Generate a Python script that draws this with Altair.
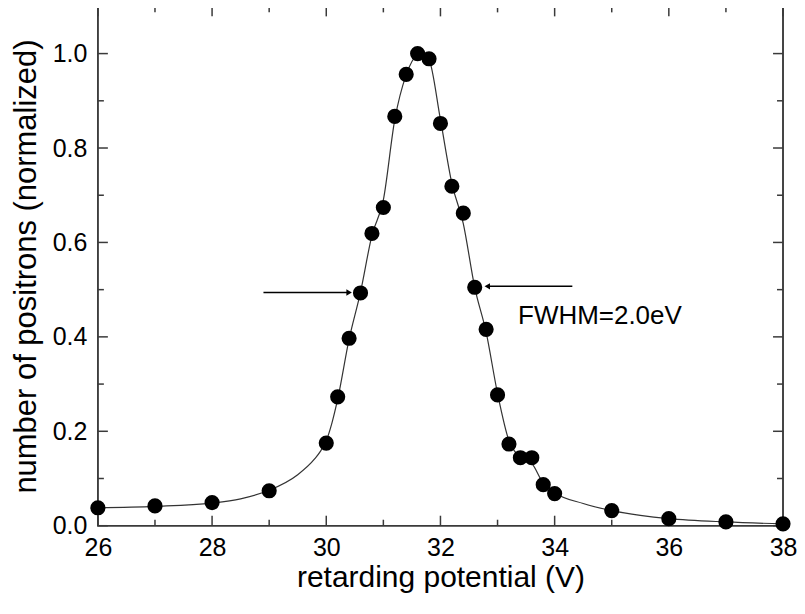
import altair as alt
import pandas as pd

# measured points
pot = [26, 27, 28, 29, 30.0, 30.2, 30.4, 30.6, 30.8, 31.0, 31.2, 31.4, 31.6, 31.8,
       32.0, 32.2, 32.4, 32.6, 32.8, 33.0, 33.2, 33.4, 33.6, 33.8, 34.0, 35, 36, 37, 38]
cnt = [0.038, 0.042, 0.049, 0.074, 0.175, 0.273, 0.397, 0.493, 0.619, 0.674, 0.867,
       0.956, 1.0, 0.989, 0.852, 0.719, 0.662, 0.505, 0.416, 0.277, 0.173, 0.144,
       0.144, 0.087, 0.068, 0.032, 0.015, 0.008, 0.004]

# fitted curve
fit_x = [26, 27, 28, 28.5, 29, 29.5, 29.8, 29.9, 30.0, 30.1, 30.2, 30.4, 30.6, 30.8,
         31.0, 31.2, 31.4, 31.6, 31.7, 31.8, 32.0, 32.2, 32.4, 32.6, 32.8, 33.0, 33.2,
         33.4, 33.6, 33.8, 34.0, 34.5, 35, 35.5, 36, 37, 38]
fit_y = [0.038, 0.041, 0.048, 0.057, 0.075, 0.108, 0.142, 0.158, 0.18, 0.218, 0.268,
         0.395, 0.495, 0.615, 0.69, 0.86, 0.955, 0.997, 1.0, 0.988, 0.86, 0.725, 0.64,
         0.505, 0.41, 0.28, 0.18, 0.145, 0.132, 0.09, 0.07, 0.047, 0.032, 0.022, 0.015,
         0.008, 0.004]

x_major = [26, 28, 30, 32, 34, 36, 38]
x_minor = [27, 29, 31, 33, 35, 37]
y_major = [0.0, 0.2, 0.4, 0.6, 0.8, 1.0]
y_minor = [0.1, 0.3, 0.5, 0.7, 0.9]

arrow_l_x = [28.9, 30.40]
arrow_l_y = [0.494, 0.494]
arrow_r_x = [34.31, 32.82]
arrow_r_y = [0.507, 0.507]
label_text = "FWHM=2.0eV"
label_x = 33.36
label_y = 0.445

W, H = 686, 520
FONT = "Liberation Sans"
FRAME = "#3a3a3a"

xs = alt.Scale(domain=[26, 38], nice=False, zero=False)
ys = alt.Scale(domain=[0, 1.1], nice=False, zero=False)

pts = pd.DataFrame({"x": pot, "y": cnt})
fit = pd.DataFrame({"x": fit_x, "y": fit_y})

base_x = alt.X("x:Q", scale=xs, title="retarding potential (V)",
               axis=alt.Axis(values=x_major, format="d", tickSize=0, domain=False,
                             grid=False, labelFlush=False, labelFontSize=25,
                             titleFontSize=30, labelPadding=10, titlePadding=2,
                             labelFont=FONT, titleFont=FONT, labelColor="black",
                             titleColor="black", titleFontWeight="normal"))
base_y = alt.Y("y:Q", scale=ys, title="number of positrons (normalized)",
               axis=alt.Axis(values=y_major, format=".1f", tickSize=0, domain=False,
                             grid=False, labelFlush=False, labelFontSize=25,
                             titleFontSize=31, labelPadding=11, titlePadding=10,
                             labelFont=FONT, titleFont=FONT, labelColor="black",
                             titleColor="black", titleFontWeight="normal"))

curve = alt.Chart(fit).mark_line(color="#333333", strokeWidth=1.2,
                                 interpolate="monotone").encode(x=base_x, y=base_y)
dots = alt.Chart(pts).mark_circle(size=230, color="black", opacity=1).encode(
    x=alt.X("x:Q", scale=xs), y=alt.Y("y:Q", scale=ys))

frame = alt.Chart(pd.DataFrame({"a": [0]})).mark_rect(
    fillOpacity=0, fill="white", stroke=FRAME, strokeWidth=1.5).encode(
    x=alt.value(0), x2=alt.value(W), y=alt.value(0), y2=alt.value(H))


def xticks(vals, length):
    d = pd.DataFrame({"x": vals})
    b = alt.Chart(d).mark_rule(color=FRAME, strokeWidth=1.5).encode(
        x=alt.X("x:Q", scale=xs), y=alt.value(H), y2=alt.value(H - length))
    t = alt.Chart(d).mark_rule(color=FRAME, strokeWidth=1.5).encode(
        x=alt.X("x:Q", scale=xs), y=alt.value(0), y2=alt.value(length))
    return [b, t]


def yticks(vals, length):
    d = pd.DataFrame({"y": vals})
    l = alt.Chart(d).mark_rule(color=FRAME, strokeWidth=1.5).encode(
        y=alt.Y("y:Q", scale=ys), x=alt.value(0), x2=alt.value(length))
    r = alt.Chart(d).mark_rule(color=FRAME, strokeWidth=1.5).encode(
        y=alt.Y("y:Q", scale=ys), x=alt.value(W), x2=alt.value(W - length))
    return [l, r]


ticks = xticks(x_major, 10) + xticks(x_minor, 6) + yticks(y_major, 10) + yticks(y_minor, 6)

al = pd.DataFrame({"x": arrow_l_x, "y": arrow_l_y})
ar = pd.DataFrame({"x": arrow_r_x, "y": arrow_r_y})
arrow_l = alt.Chart(al).mark_line(color="black", strokeWidth=1.5).encode(
    x=alt.X("x:Q", scale=xs), y=alt.Y("y:Q", scale=ys))
arrow_r = alt.Chart(ar).mark_line(color="black", strokeWidth=1.5).encode(
    x=alt.X("x:Q", scale=xs), y=alt.Y("y:Q", scale=ys))
head_l = alt.Chart(al.tail(1)).mark_point(shape="triangle-right", filled=True,
                                          color="black", size=40, opacity=1).encode(
    x=alt.X("x:Q", scale=xs), y=alt.Y("y:Q", scale=ys))
head_r = alt.Chart(ar.tail(1)).mark_point(shape="triangle-left", filled=True,
                                          color="black", size=40, opacity=1).encode(
    x=alt.X("x:Q", scale=xs), y=alt.Y("y:Q", scale=ys))

lab = alt.Chart(pd.DataFrame({"x": [label_x], "y": [label_y], "t": [label_text]})).mark_text(
    align="left", baseline="middle", fontSize=26, font=FONT, color="black").encode(
    x=alt.X("x:Q", scale=xs), y=alt.Y("y:Q", scale=ys), text="t:N")

chart = alt.layer(frame, curve, *ticks, arrow_l, arrow_r, head_l, head_r, dots, lab).properties(
    width=W, height=H, background="white",
    padding={"left": 2, "top": -3, "right": 0, "bottom": 0},
).configure_view(stroke=FRAME, strokeWidth=1.5)

chart.save("out.html", embed_options={"renderer": "svg", "actions": False})
